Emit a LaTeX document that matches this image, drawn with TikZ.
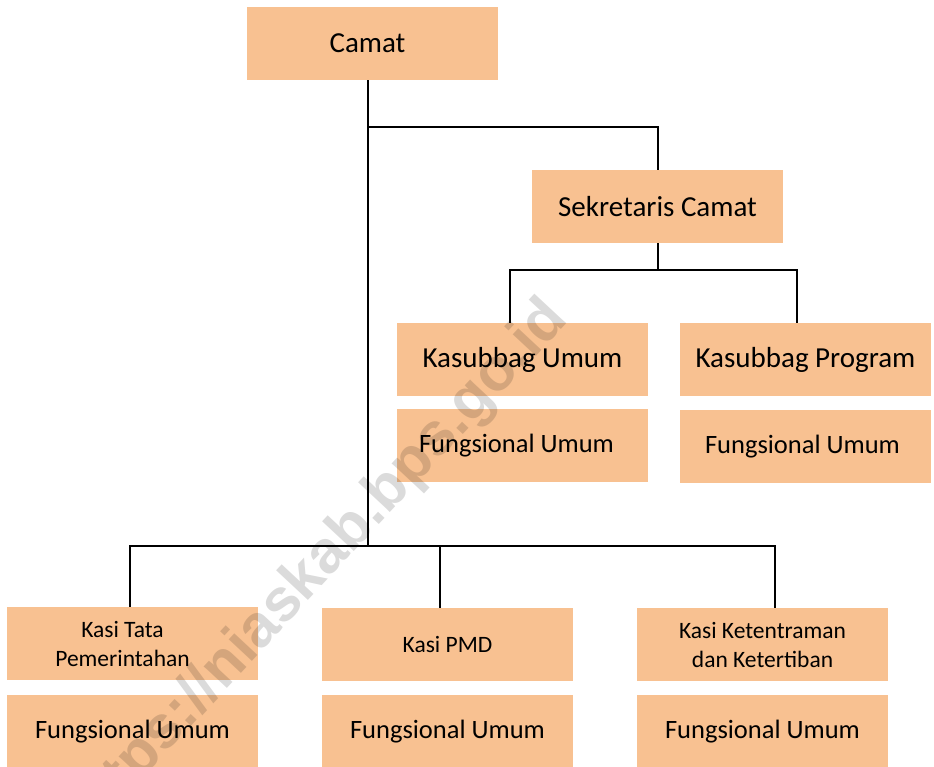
\documentclass[tikz,border=0pt]{standalone}
\usepackage{fontspec}
\setmainfont{Carlito}
\newfontfamily\markfont{Liberation Sans}
\usepackage{tikz}
\usetikzlibrary{positioning}
\usepackage{xcolor}
\definecolor{boxorange}{RGB}{248, 193, 145}

\tikzset{
  unit/.style={fill=boxorange, minimum width=251pt, minimum height=73pt,
    inner sep=0pt, align=center, font=\fontsize{29}{35}\selectfont},
  staff/.style={unit, font=\fontsize{26.5}{32}\selectfont},
  kasi/.style={unit, font=\fontsize{23.5}{29}\selectfont},
  link/.style={line width=2pt, black},
  watermark/.style={text=black, text opacity=0.14,
    font=\markfont\bfseries\fontsize{60}{60}\selectfont}
}

\begin{document}
\begin{tikzpicture}[x=1pt, y=-1pt]
    \useasboundingbox (0,0) rectangle (934,766);
    \clip (0,0) rectangle (934,766);

    % top of the chart
    \node[unit] (camat) at (372.5,43.5) {\hspace*{-10pt}Camat};
    \node[unit] (sekcam) at (657.5,206.5) {Sekretaris Camat};

    % sub-sections under the secretary
    \node[unit] (kasumum) at (522.5,359.5) {Kasubbag Umum};
    \node[staff] (fungumum) at (522.5,445.5) {\hspace*{-12pt}Fungsional Umum};
    \node[unit] (kasprog) at (805.5,359.5) {Kasubbag Program};
    \node[staff] (fungprog) at (805.5,446.5) {\hspace*{-6pt}Fungsional Umum};

    % sections
    \node[kasi] (kasitata) at (132.5,643.5) {\hspace*{-20pt}Kasi Tata\\\hspace*{-20pt}Pemerintahan};
    \node[staff] (fungtata) at (132.5,731.5) {Fungsional Umum};
    \node[kasi] (kasipmd) at (447.5,644.5) {Kasi PMD};
    \node[staff] (fungpmd) at (447.5,731.5) {Fungsional Umum};
    \node[kasi] (kasitib) at (762.5,644.5) {Kasi Ketentraman\\dan Ketertiban};
    \node[staff] (fungtib) at (762.5,731.5) {Fungsional Umum};

    % joints of the connectors
    \coordinate (trunk) at (368,546);
    \coordinate (sekjoint) at (368,127);
    \coordinate (subL) at (510,270);
    \coordinate (subR) at (797,270);
    \coordinate (kasiL) at (130,546);
    \coordinate (kasiM) at (440,546);
    \coordinate (kasiR) at (775,546);

    \draw[link] (trunk |- camat.south) -- (trunk);
    \draw[link] (sekjoint) -| (sekcam.north);
    \draw[link] (sekcam.south) -- (sekcam.south |- subL);
    \draw[link] (subL |- kasumum.north) -- (subL) -- (subR) -- (subR |- kasprog.north);
    \draw[link] (kasiL |- kasitata.north) -- (kasiL) -- (kasiR) -- (kasiR |- kasitib.north);
    \draw[link] (kasiM) -- (kasiM |- kasipmd.north);

    % watermark
    \node[watermark, rotate=47, anchor=base east] (wmark) at (572,318) {https://niaskab.bps.go.id};
\end{tikzpicture}
\end{document}
